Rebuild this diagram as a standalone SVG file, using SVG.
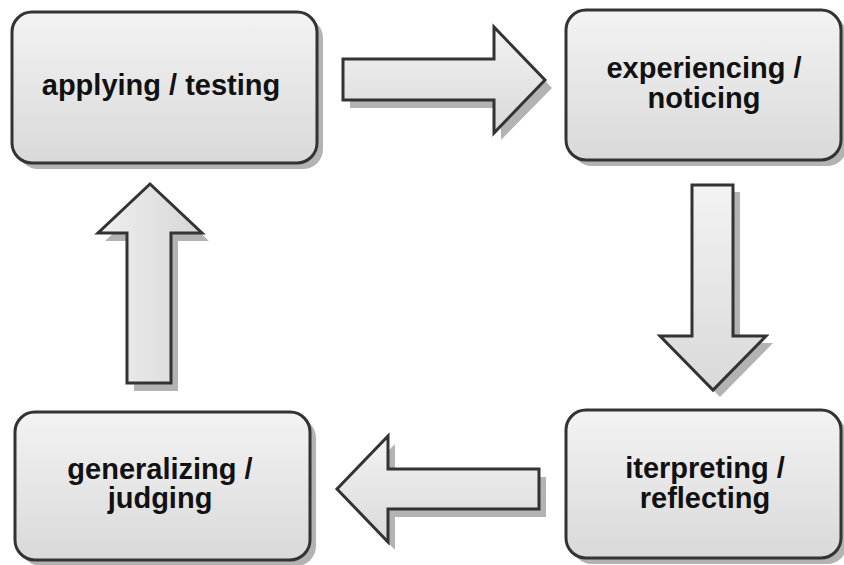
<svg xmlns="http://www.w3.org/2000/svg" width="844" height="565" viewBox="0 0 844 565">
  <defs>
    <linearGradient id="fillV" x1="0" y1="0" x2="0" y2="1">
      <stop offset="0" stop-color="#f3f3f3"/>
      <stop offset="1" stop-color="#d9d9d9"/>
    </linearGradient>
    <linearGradient id="fillH" x1="0" y1="0" x2="1" y2="0">
      <stop offset="0" stop-color="#f0f0f0"/>
      <stop offset="1" stop-color="#d6d6d6"/>
    </linearGradient>
  </defs>
  <style>
    .shadow { fill: #b3b3b3; stroke: none; }
    .box { fill: url(#fillV); stroke: #333333; stroke-width: 3; }
    .arrow { fill: url(#fillV); stroke: #333333; stroke-width: 3; stroke-linejoin: miter; }
    .arrowH { fill: url(#fillH); stroke: #333333; stroke-width: 3; stroke-linejoin: miter; }
    .label { font-family: "Liberation Sans", Arial, sans-serif; font-weight: bold; font-size: 29px; fill: #111111; text-anchor: middle; }
  </style>

  <!-- connectors: block arrows -->
  <g id="connectors">
    <!-- right arrow -->
    <g id="arrow-right">
      <path class="shadow" d="M350,67 H501 V35 L552,88 L501,140 V108 H350 Z"/>
      <path class="arrow" d="M343,59 H494 V27 L545,80 L494,133 V100 H343 Z"/>
    </g>
    <!-- down arrow -->
    <g id="arrow-down">
      <path class="shadow" d="M699,192 H740 V343 H773 L720,397 L667,343 H699 Z"/>
      <path class="arrow" d="M692,185 H733 V336 H766 L713,390 L660,336 H692 Z"/>
    </g>
    <!-- left arrow -->
    <g id="arrow-left">
      <path class="shadow" d="M546,477 H395 V444 L344,497 L395,550 V517 H546 Z"/>
      <path class="arrow" d="M539,469 H388 V436 L337,489 L388,542 V509 H539 Z"/>
    </g>
    <!-- up arrow -->
    <g id="arrow-up">
      <path class="shadow" d="M134,391 V241 H105 L157,192 L209,241 H178 V391 Z"/>
      <path class="arrowH" d="M127,383 V233 H98 L150,184 L202,233 H171 V383 Z"/>
    </g>
  </g>

  <g id="node-applying">
    <rect class="shadow" x="18" y="18" width="305" height="151" rx="20"/>
    <rect class="box" x="12" y="12" width="305" height="151" rx="20"/>
    <text class="label" x="161" y="95">applying / testing</text>
  </g>

  <g id="node-experiencing">
    <rect class="shadow" x="572" y="16" width="275" height="150" rx="20"/>
    <rect class="box" x="566" y="10" width="275" height="150" rx="20"/>
    <text class="label" x="704" y="78">experiencing /</text>
    <text class="label" x="704" y="108">noticing</text>
  </g>

  <g id="node-interpreting">
    <rect class="shadow" x="572" y="416" width="275" height="148" rx="20"/>
    <rect class="box" x="566" y="410" width="275" height="148" rx="20"/>
    <text class="label" x="705" y="478">iterpreting /</text>
    <text class="label" x="705" y="508">reflecting</text>
  </g>

  <g id="node-generalizing">
    <rect class="shadow" x="21" y="418" width="295" height="148" rx="20"/>
    <rect class="box" x="15" y="412" width="295" height="148" rx="20"/>
    <text class="label" x="160" y="479">generalizing /</text>
    <text class="label" x="160" y="508">judging</text>
  </g>
</svg>
